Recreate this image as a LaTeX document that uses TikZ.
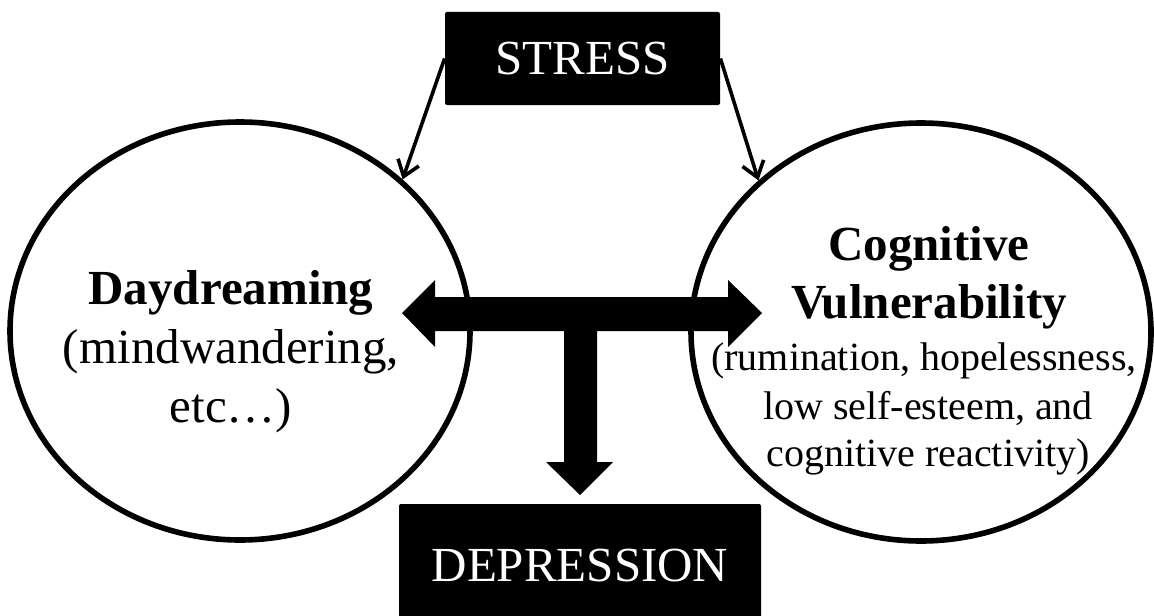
\documentclass[tikz,border=0pt]{standalone}
\usepackage{fontspec}
\setmainfont{Liberation Serif}
\usetikzlibrary{arrows.meta,shapes.geometric}
\begin{document}
\begin{tikzpicture}[x=0.5pt,y=-0.5pt,
  circ/.style={ellipse,draw,line width=2.8pt,minimum width=230pt,minimum height=209pt,inner sep=0pt},
  blackbox/.style={fill=black,text=white,rounded corners=1pt,inner sep=0pt,font=\fontsize{24.5}{29.5}\selectfont},
  big/.style={font=\fontsize{24.5}{29.5}\selectfont,anchor=base,inner sep=0pt},
  bigb/.style={font=\fontsize{24.5}{29.5}\selectfont\bfseries,anchor=base,inner sep=0pt},
  small/.style={font=\fontsize{20}{24}\selectfont,anchor=base,inner sep=0pt},
  thinarrow/.style={line width=1.8pt,-{Straight Barb[length=7.5pt,width=11pt]}},
]
\useasboundingbox (0,0) rectangle (1154,615);
\clip (0,0) rectangle (1154,615);
\fill[white] (0,0) rectangle (1154,615);
% circles
\node[circ] (day) at (240,331) {};
\node[circ] (cog) at (921,332) {};
% boxes
\node[blackbox,minimum width=137.5pt,minimum height=46.5pt] (stress) at (582.5,58.5) {STRESS};
\node[blackbox,minimum width=181pt,minimum height=62pt] (dep) at (580,566) {DEPRESSION};
% texts
\node[bigb] (d1) at (231,304) {Daydreaming};
\node[big] (d2) at (231,363) {(mindwandering,};
\node[big] (d3) at (231,422) {etc…)};
\node[bigb] (c1) at (929,260) {Cognitive};
\node[bigb] (c2) at (929,318) {Vulnerability};
\node[small] (c3) at (924,370) {(rumination, hopelessness,};
\node[small] (c4) at (928,419) {low self-esteem, and};
\node[small] (c5) at (928,466) {cognitive reactivity)};
% stress arrows
\draw[thinarrow] (stress.west) -- (day.43);
\draw[thinarrow] (stress.east) -- (cog.137);
% T-shaped block arrow
\fill (402,313) -- (435,280) -- (435,297) -- (728,297) -- (728,280) -- (762,313)
  -- (728,347) -- (728,331) -- (597,331) -- (597,462) -- (613,462) -- (580,495)
  -- (546,462) -- (564,462) -- (564,331) -- (435,331) -- (435,347) -- cycle;
\end{tikzpicture}
\end{document}
